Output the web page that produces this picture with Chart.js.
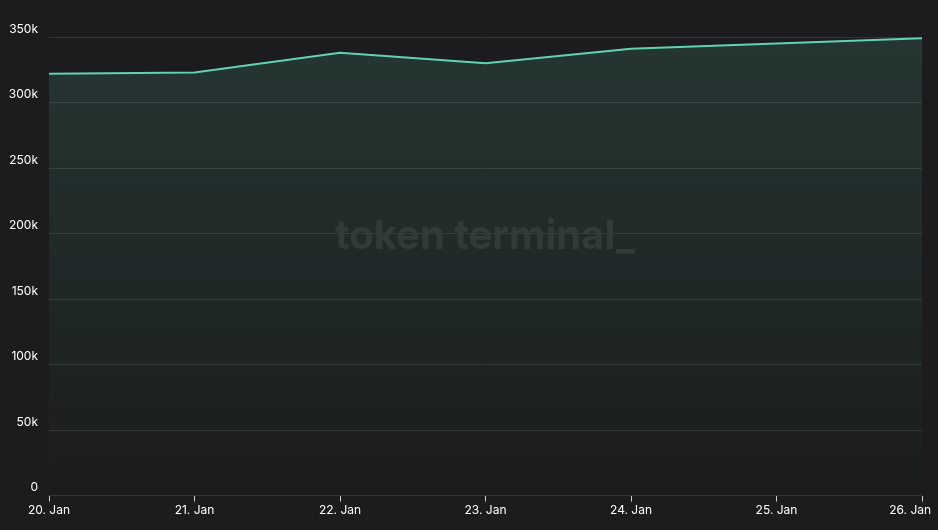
<!DOCTYPE html>
<html>
<head>
<meta charset="utf-8">
<script src="https://cdn.jsdelivr.net/npm/chart.js@4"></script>
<style>
  html, body { margin: 0; padding: 0; background: #1c1c1e; }
  #wrap { width: 938px; height: 530px; }
</style>
</head>
<body>
<div id="wrap"><canvas id="myChart"></canvas></div>
<script>
const days = ["20. Jan", "21. Jan", "22. Jan", "23. Jan", "24. Jan", "25. Jan", "26. Jan"];
const users = [322000, 323000, 338000, 330000, 341000, 345000, 349000];
const yTicks = [0, 50000, 100000, 150000, 200000, 250000, 300000, 350000];

// watermark in the middle of the plot
const watermark = {
    id: "watermark",
    beforeDatasetsDraw(chart) {
        const ctx = chart.ctx;
        ctx.save();
        ctx.font = "bold 40px Inter, 'DejaVu Sans', sans-serif";
        ctx.fillStyle = "#2d2e30";
        ctx.textAlign = "center";
        ctx.textBaseline = "middle";
        ctx.fillText("token terminal_", 485, 237);
        ctx.restore();
    }
};

let ctx = document.getElementById("myChart").getContext("2d");
let myChart = new Chart(ctx, {
    type: "line",
    data: {
        labels: days,
        datasets: [{
            data: users,
            borderColor: "#62d3b2",
            borderWidth: 2,
            pointRadius: 0,
            tension: 0,
            fill: "origin",
            backgroundColor: c => {
                const a = c.chart.chartArea;
                if (!a) return "rgba(0,0,0,0)";
                const g = c.chart.ctx.createLinearGradient(0, a.top, 0, a.bottom);
                g.addColorStop(0, "rgba(70,150,125,0.22)");
                g.addColorStop(1, "rgba(70,150,125,0)");
                return g;
            }
        }]
    },
    options: {
        responsive: true,
        maintainAspectRatio: false,
        animation: false,
        layout: { padding: { top: 37, right: 0, bottom: 10, left: 0 } },
        plugins: { legend: { display: false }, tooltip: { enabled: false } },
        scales: {
            x: {
                afterFit: s => { s.paddingRight = 16; s.paddingLeft = 0; },
                grid: { drawOnChartArea: false, drawTicks: true, tickLength: 6, color: "#cfcfcf" },
                border: { display: false },
                ticks: {
                    color: "#ffffff", font: { size: 12, family: "Inter, sans-serif" }, padding: 2, maxRotation: 0,
                    // last label pushed left so it stays inside the canvas
                    callback: (v, i) => i === days.length - 1 ? days[i] + "\u00a0".repeat(7) : days[i]
                }
            },
            y: {
                min: 0,
                max: 350000,
                afterBuildTicks: s => { s.ticks = yTicks.map(v => ({ value: v })); },
                afterFit: s => { s.width = 49; },
                grid: { color: "#333436", drawTicks: false },
                border: { display: false },
                ticks: {
                    color: "#ffffff",
                    font: { size: 12, family: "Inter, sans-serif" },
                    padding: 11,
                    labelOffset: -8,
                    callback: v => v === 0 ? "0" : (v / 1000) + "k"
                }
            }
        }
    },
    plugins: [watermark]
});
</script>
</body>
</html>
